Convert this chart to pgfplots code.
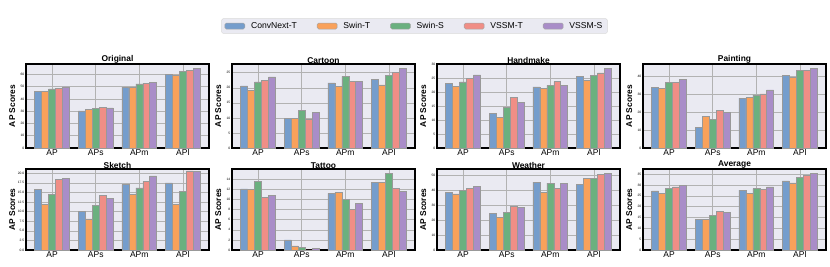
\documentclass[border=0pt]{standalone}
\usepackage{pgfplots}
\pgfplotsset{compat=1.18}
\usepackage{fontspec}
\setmainfont{Liberation Sans}
\definecolor{bgc}{HTML}{EAEAF2}
\definecolor{c1}{HTML}{759DCC}
\definecolor{c2}{HTML}{F9A15B}
\definecolor{c3}{HTML}{6BB07F}
\definecolor{c4}{HTML}{F08E86}
\definecolor{c5}{HTML}{A98DC8}
\pgfplotsset{
  panel/.style={
    scale only axis, width=183pt, height=84pt,
    ybar=0pt, bar width=0.16,
    xmin=-0.6, xmax=3.6, xtick={0,1,2,3}, xticklabels={AP,APs,APm,APl},
    ymin=0,
    axis background/.style={fill=bgc},
    grid=major, major grid style={gray!60, line width=0.5pt},
    axis line style={black, line width=1.1pt},
    major tick length=0pt,
    /pgf/number format/assume math mode=true,
    xticklabel style={font=\fontsize{8.5}{9}\selectfont, inner sep=1.5pt},
    yticklabel style={font=\fontsize{3.3}{3.5}\selectfont, inner sep=1.5pt},
    ylabel={AP Scores},
    ylabel style={font=\bfseries\fontsize{8.4}{9}\selectfont, at={(axis description cs:-0.075,0.5)}, anchor=center},
    title style={font=\bfseries\fontsize{8.4}{9}\selectfont, at={(axis description cs:0.5,1)}, anchor=south, yshift=-7pt, inner sep=1.5pt},
    every axis plot/.append style={draw=gray!80, line width=0.5pt},
  },
  bl/.style={fill=#1, legend image code/.code={\draw[##1, draw=gray!70, line width=0.5pt] (0pt,-3pt) rectangle (20pt,3pt);}},
}
\begin{document}
\begin{tikzpicture}
\useasboundingbox (0,0) rectangle (830pt,266pt);
% Row 1
\begin{axis}[panel, at={(26pt,118pt)}, anchor=south west, title={Original}, ymax=68.4, ytick={0,10,...,60},
  legend columns=5,
  legend style={at={(axis description cs:2.123,1.452)}, anchor=center, fill=bgc, draw=gray!30, rounded corners=1.5pt,
    font=\fontsize{8.6}{9}\selectfont,
    /tikz/every odd column/.append style={column sep=4pt},
    /tikz/every even column/.append style={column sep=18pt},
    inner xsep=3pt, inner ysep=1.5pt}]
\addplot[bl=c1] coordinates {(0,46.2) (1,30.3) (2,49.5) (3,59.7)};
\addplot[bl=c2] coordinates {(0,46.0) (1,31.4) (2,49.5) (3,59.5)};
\addplot[bl=c3] coordinates {(0,48.1) (1,32.2) (2,52.2) (3,62.7)};
\addplot[bl=c4] coordinates {(0,48.6) (1,33.2) (2,52.7) (3,63.2)};
\addplot[bl=c5] coordinates {(0,49.7) (1,32.7) (2,53.5) (3,64.9)};
\legend{ConvNext-T,Swin-T,Swin-S,VSSM-T,VSSM-S}
\end{axis}
\begin{axis}[panel, at={(232pt,118pt)}, anchor=south west, title={Cartoon}, ymax=27.9, ytick={0,5,...,25}]
\addplot[bl=c1] coordinates {(0,20.6) (1,9.8) (2,21.6) (3,22.8)};
\addplot[bl=c2] coordinates {(0,19.2) (1,9.9) (2,20.5) (3,21.0)};
\addplot[bl=c3] coordinates {(0,22.0) (1,12.4) (2,23.8) (3,24.1)};
\addplot[bl=c4] coordinates {(0,22.4) (1,9.7) (2,22.2) (3,25.2)};
\addplot[bl=c5] coordinates {(0,23.6) (1,11.8) (2,22.1) (3,26.4)};
\end{axis}
\begin{axis}[panel, at={(437pt,118pt)}, anchor=south west, title={Handmake}, ymax=30.1, ytick={0,5,...,30}]
\addplot[bl=c1] coordinates {(0,23.2) (1,12.5) (2,21.9) (3,25.8)};
\addplot[bl=c2] coordinates {(0,22.1) (1,11.1) (2,21.3) (3,24.2)};
\addplot[bl=c3] coordinates {(0,23.7) (1,14.6) (2,22.4) (3,26.0)};
\addplot[bl=c4] coordinates {(0,25.0) (1,18.1) (2,23.8) (3,26.9)};
\addplot[bl=c5] coordinates {(0,26.2) (1,16.4) (2,22.4) (3,28.6)};
\end{axis}
\begin{axis}[panel, at={(643pt,118pt)}, anchor=south west, title={Painting}, ymax=47.1, ytick={0,10,...,40}]
\addplot[bl=c1] coordinates {(0,33.9) (1,11.5) (2,27.9) (3,40.7)};
\addplot[bl=c2] coordinates {(0,33.3) (1,17.7) (2,28.3) (3,39.8)};
\addplot[bl=c3] coordinates {(0,36.8) (1,16.2) (2,29.8) (3,43.5)};
\addplot[bl=c4] coordinates {(0,36.8) (1,21.2) (2,30.3) (3,43.5)};
\addplot[bl=c5] coordinates {(0,38.5) (1,19.9) (2,32.6) (3,44.7)};
\end{axis}
% Row 2
\begin{axis}[panel, height=81pt, at={(26pt,16pt)}, anchor=south west, title={Sketch}, ymax=21.1, ytick={0,2.5,...,20},
  yticklabel style={/pgf/number format/.cd, fixed, fixed zerofill, precision=1}]
\addplot[bl=c1] coordinates {(0,15.8) (1,10.0) (2,17.0) (3,17.5)};
\addplot[bl=c2] coordinates {(0,11.8) (1,8.1) (2,14.4) (3,11.8)};
\addplot[bl=c3] coordinates {(0,14.5) (1,11.6) (2,16.2) (3,15.2)};
\addplot[bl=c4] coordinates {(0,18.4) (1,14.2) (2,17.8) (3,20.6)};
\addplot[bl=c5] coordinates {(0,18.7) (1,13.4) (2,19.3) (3,20.4)};
\end{axis}
\begin{axis}[panel, height=81pt, at={(232pt,16pt)}, anchor=south west, title={Tattoo}, ymax=16.05, ytick={0,2,...,14}]
\addplot[bl=c1] coordinates {(0,12.1) (1,2.0) (2,11.2) (3,13.4)};
\addplot[bl=c2] coordinates {(0,12.0) (1,0.8) (2,11.4) (3,13.4)};
\addplot[bl=c3] coordinates {(0,13.6) (1,0.5) (2,10.1) (3,15.2)};
\addplot[bl=c4] coordinates {(0,10.5) (1,0.05) (2,8.0) (3,12.2)};
\addplot[bl=c5] coordinates {(0,10.8) (1,0.25) (2,9.2) (3,11.6)};
\end{axis}
\begin{axis}[panel, height=81pt, at={(437pt,16pt)}, anchor=south west, title={Weather}, ymax=54.3, ytick={0,10,...,50}]
\addplot[bl=c1] coordinates {(0,38.6) (1,24.8) (2,45.5) (3,44.2)};
\addplot[bl=c2] coordinates {(0,37.7) (1,21.8) (2,38.6) (3,47.8)};
\addplot[bl=c3] coordinates {(0,40.1) (1,25.4) (2,44.8) (3,47.8)};
\addplot[bl=c4] coordinates {(0,41.2) (1,29.3) (2,41.4) (3,50.6)};
\addplot[bl=c5] coordinates {(0,42.5) (1,28.7) (2,44.8) (3,51.5)};
\end{axis}
\begin{axis}[panel, height=81pt, at={(643pt,16pt)}, anchor=south west, title={Average}, ymax=37.4, ytick={0,5,...,35}]
\addplot[bl=c1] coordinates {(0,27.3) (1,14.2) (2,27.7) (3,31.9)};
\addplot[bl=c2] coordinates {(0,26.0) (1,14.2) (2,26.3) (3,31.0)};
\addplot[bl=c3] coordinates {(0,28.3) (1,16.0) (2,28.3) (3,33.5)};
\addplot[bl=c4] coordinates {(0,29.1) (1,18.0) (2,28.0) (3,34.6)};
\addplot[bl=c5] coordinates {(0,30.0) (1,17.5) (2,29.2) (3,35.5)};
\end{axis}
\end{tikzpicture}
\end{document}
